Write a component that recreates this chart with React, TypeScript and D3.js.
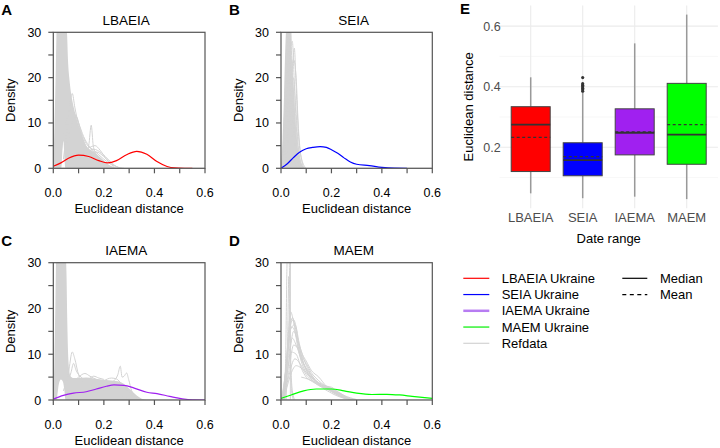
import React from "react";
import * as d3 from "d3";

type Pt = [number, number];
type Band = [number, number, number];

// ---- Ukraine density curves (x = Euclidean distance, y = density)
const lbaeiaUkraine: Pt[] = [
  [0, 0.45], [0.03, 1.2], [0.06, 2.2], [0.1, 2.9], [0.14, 2.6], [0.18, 1.7], [0.215, 1.2],
  [0.25, 1.7], [0.29, 3.0], [0.33, 3.75], [0.37, 3.1], [0.41, 1.5], [0.45, 0.4], [0.48, 0.08],
  [0.52, 0.01], [0.55, 0],
];
const seiaUkraine: Pt[] = [
  [0, 0], [0.025, 1.0], [0.05, 2.4], [0.075, 3.6], [0.1, 4.3], [0.125, 4.6], [0.155, 4.8],
  [0.18, 4.6], [0.2, 4.1], [0.225, 3.3], [0.25, 2.3], [0.275, 1.4], [0.3, 0.9], [0.35, 0.6],
  [0.4, 0.2], [0.45, 0.03], [0.5, 0],
];
const iaemaUkraine: Pt[] = [
  [0, 0.2], [0.04, 1.0], [0.08, 1.5], [0.13, 1.8], [0.17, 2.4], [0.21, 3.0], [0.24, 3.3],
  [0.28, 3.2], [0.32, 2.6], [0.37, 1.7], [0.41, 1.4], [0.46, 0.8], [0.51, 0.25], [0.55, 0.03],
  [0.6, 0],
];
const maemUkraine: Pt[] = [
  [0, 0.35], [0.04, 1.1], [0.09, 2.0], [0.14, 2.4], [0.2, 2.4], [0.25, 2.0], [0.3, 1.5],
  [0.36, 1.2], [0.42, 1.25], [0.47, 1.1], [0.52, 0.8], [0.6, 0.35],
];

// ---- Refdata: dense band of overlapping curves [x, low, high] and single curves
const lbaeiaRefBand: Band[] = [
  [0, 0, 0], [0.004, 0, 8], [0.01, 0, 22], [0.014, 0, 32], [0.032, 0, 32], [0.036, 4, 32],
  [0.04, 6, 32], [0.044, 2, 32], [0.048, 0, 32], [0.054, 0, 30], [0.058, 0, 24], [0.065, 0, 19],
  [0.075, 0, 15], [0.085, 0, 12.5], [0.1, 0, 9.5], [0.115, 0, 7], [0.13, 0, 5], [0.15, 0, 4],
  [0.17, 0, 3.2], [0.19, 0, 2.2], [0.21, 0, 1.2], [0.23, 0, 0.4], [0.25, 0, 0],
];
const lbaeiaRefCurves: Pt[][] = [
  [[0.04, 2], [0.055, 9], [0.065, 14], [0.075, 16.5], [0.085, 13.5], [0.1, 9.5], [0.12, 6], [0.15, 3.2], [0.18, 1.5], [0.22, 0.3], [0.26, 0]],
  [[0.03, 3], [0.05, 10], [0.07, 13], [0.085, 12], [0.1, 10], [0.12, 7], [0.14, 5], [0.17, 3], [0.2, 1.2], [0.24, 0.2]],
  [[0.05, 4], [0.07, 9], [0.09, 11.5], [0.11, 8], [0.13, 5.5], [0.16, 4], [0.2, 2], [0.24, 0.4]],
  [[0.1, 2], [0.125, 3], [0.14, 5], [0.15, 9.5], [0.158, 5], [0.17, 3], [0.19, 1.5], [0.22, 0.4], [0.25, 0]],
  [[0.08, 3], [0.11, 3.5], [0.14, 4.5], [0.165, 5], [0.185, 4], [0.21, 2], [0.24, 0.6], [0.27, 0]],
  [[0.09, 2.5], [0.13, 3.5], [0.16, 4.2], [0.19, 3.4], [0.22, 1.8], [0.25, 0.4], [0.28, 0]],
  [[0.1, 2], [0.14, 3], [0.17, 3.6], [0.2, 2.6], [0.23, 1], [0.26, 0.1]],
  [[0, 0], [0.2, 0], [0.4, 0], [0.6, 0]],
];

const seiaRefBand: Band[] = [
  [0, 0, 0], [0.006, 0, 6], [0.012, 0, 16], [0.018, 0, 28], [0.022, 0, 32], [0.038, 0, 32],
  [0.042, 0, 22], [0.046, 0, 20], [0.05, 0, 18], [0.056, 0, 12], [0.062, 0, 7], [0.07, 0, 3],
  [0.08, 0, 1], [0.09, 0, 0.2], [0.1, 0, 0],
];
const seiaRefCurves: Pt[][] = [
  [[0.003, 0], [0.015, 10], [0.025, 26], [0.032, 31], [0.04, 22], [0.05, 8], [0.06, 2], [0.075, 0]],
  [[0.008, 0], [0.02, 14], [0.03, 31], [0.038, 31], [0.045, 18], [0.055, 6], [0.07, 1], [0.085, 0]],
  [[0.01, 0], [0.025, 12], [0.035, 25], [0.045, 28], [0.052, 20], [0.062, 8], [0.075, 2], [0.09, 0]],
  [[0.015, 0], [0.03, 10], [0.045, 22], [0.053, 26.5], [0.06, 18], [0.07, 7], [0.082, 2], [0.1, 0]],
  [[0.005, 0], [0.018, 18], [0.026, 31], [0.034, 20], [0.044, 6], [0.055, 1], [0.065, 0]],
  [[0.012, 0], [0.028, 16], [0.04, 24], [0.05, 16], [0.06, 6], [0.072, 1.5], [0.09, 0]],
  [[0.02, 0], [0.035, 12], [0.048, 20], [0.058, 14], [0.068, 5], [0.08, 1], [0.095, 0]],
  [[0.018, 0], [0.032, 14], [0.05, 24], [0.06, 20], [0.068, 10], [0.078, 3], [0.092, 0]],
  [[0, 0], [0.2, 0], [0.4, 0], [0.6, 0]],
];

const iaemaRefBand: Band[] = [
  [0, 0, 0], [0.004, 0, 8], [0.008, 0, 20], [0.012, 0, 32], [0.016, 1, 32], [0.022, 3.5, 32],
  [0.03, 4.5, 32], [0.038, 4, 32], [0.044, 2, 32], [0.048, 0, 32], [0.052, 0, 28], [0.055, 0, 18],
  [0.058, 0, 11], [0.062, 0, 7], [0.068, 0, 5.2], [0.08, 0, 4.8], [0.1, 0, 4.8], [0.13, 0, 4.9],
  [0.16, 0, 4.7], [0.2, 0, 4.4], [0.24, 0, 4.2], [0.27, 0, 3.8], [0.29, 0, 3], [0.31, 0, 2],
  [0.33, 0, 1], [0.35, 0, 0.3], [0.37, 0, 0],
];
const iaemaRefCurves: Pt[][] = [
  [[0.04, 2], [0.06, 6], [0.075, 10.5], [0.085, 9], [0.1, 5.5], [0.12, 4], [0.15, 3], [0.2, 2], [0.25, 1], [0.3, 0.2]],
  [[0.05, 3], [0.07, 6], [0.08, 8], [0.09, 6.5], [0.11, 5], [0.14, 4]],
  [[0.08, 4], [0.1, 5], [0.125, 5.8], [0.145, 5.2], [0.17, 4.5], [0.2, 4.2]],
  [[0.14, 4.5], [0.16, 5.2], [0.18, 4.8], [0.2, 4.5]],
  [[0.22, 3.5], [0.24, 4.2], [0.255, 5.5], [0.265, 7.4], [0.272, 5], [0.28, 5.2], [0.29, 5.9], [0.298, 4.5], [0.31, 2], [0.33, 0.5], [0.35, 0]],
  [[0.2, 4.2], [0.23, 4.8], [0.25, 4.6], [0.27, 3.5], [0.3, 1.5], [0.34, 0.2]],
  [[0, 0], [0.2, 0], [0.4, 0], [0.6, 0]],
];

const maemRefBand: Band[] = [];
const maemRefCurves: Pt[][] = [
  [[0, 0], [0.02, 7], [0.038, 19.3], [0.05, 17], [0.065, 12], [0.08, 8.5], [0.1, 6], [0.13, 4.5], [0.16, 3.2], [0.2, 2], [0.25, 0.6], [0.3, 0]],
  [[0.005, 0], [0.025, 9], [0.045, 18], [0.06, 15], [0.075, 11], [0.09, 8], [0.11, 6], [0.14, 4], [0.18, 2.6], [0.22, 1.2], [0.27, 0.2]],
  [[0.005, 0], [0.022, 8], [0.042, 16], [0.058, 14.5], [0.075, 10], [0.1, 7], [0.12, 5.5], [0.15, 3.6], [0.2, 1.8], [0.25, 0.4]],
  [[0.01, 0], [0.03, 8], [0.05, 15], [0.065, 13], [0.08, 10], [0.1, 8], [0.12, 6], [0.15, 4.2], [0.19, 2.5], [0.23, 1], [0.28, 0]],
  [[0.008, 0], [0.028, 9], [0.045, 13.5], [0.06, 12], [0.08, 9], [0.1, 6.5], [0.13, 4.5], [0.17, 3], [0.21, 2], [0.26, 0.5]],
  [[0.01, 0], [0.03, 6], [0.05, 12], [0.07, 11], [0.09, 8], [0.11, 5.5], [0.14, 3.5], [0.18, 2.5], [0.22, 1.5], [0.27, 0.3]],
  [[0.005, 0], [0.025, 6], [0.04, 10.5], [0.06, 10], [0.08, 7], [0.1, 5], [0.13, 4], [0.16, 3], [0.2, 2.2], [0.25, 0.8], [0.3, 0]],
  [[0.01, 0], [0.03, 5], [0.055, 9], [0.075, 8], [0.1, 5.5], [0.12, 4.5], [0.15, 3.5], [0.19, 2.8], [0.22, 2], [0.26, 0.6]],
  [[0.012, 0], [0.035, 5], [0.06, 7.5], [0.08, 7], [0.1, 6], [0.12, 5], [0.15, 3.8], [0.18, 3], [0.21, 2.2], [0.25, 1], [0.3, 0.1]],
  [[0.015, 0], [0.04, 17], [0.05, 17.5], [0.06, 16], [0.07, 13], [0.09, 9], [0.11, 6.5], [0.14, 4], [0.2, 1.5], [0.26, 0.2]],
  [[0.01, 0], [0.035, 15], [0.055, 16.5], [0.07, 12.5], [0.085, 10], [0.1, 8.5], [0.12, 6.5], [0.15, 5], [0.18, 3], [0.22, 1.5], [0.27, 0.2]],
  [[0.01, 0], [0.018, 8], [0.025, 31], [0.032, 31], [0.038, 10], [0.045, 2], [0.055, 0]],
  [[0.02, 0], [0.026, 12], [0.031, 27], [0.036, 12], [0.042, 2], [0.05, 0]],
  [[0.037, 0], [0.0375, 32]],
  [[0.08, 5], [0.11, 4.5], [0.14, 3.5], [0.17, 3.1], [0.2, 2.8], [0.23, 1.5], [0.27, 0.3]],
  [[0, 0], [0.2, 0], [0.4, 0], [0.6, 0]],
];

// ---- Box plot summary (panel E)
const categories = ["LBAEIA", "SEIA", "IAEMA", "MAEM"];
const boxColors = ["#ff0000", "#0000ff", "#a020f0", "#00ff00"];
const whiskerLow = [0.048, 0.032, 0.037, 0.029];
const q1 = [0.12, 0.106, 0.175, 0.144];
const median = [0.275, 0.158, 0.248, 0.242];
const mean = [0.233, 0.169, 0.251, 0.275];
const q3 = [0.334, 0.215, 0.327, 0.411];
const whiskerHigh = [0.431, 0.382, 0.543, 0.638];
const seiaOutliers = [0.385, 0.39, 0.395, 0.4, 0.405, 0.41, 0.43];

const densXTicks = [0, 0.1, 0.2, 0.3, 0.4, 0.5, 0.6];
const densXLabels = [0, 0.2, 0.4, 0.6];
const densYTicks = [0, 5, 10, 15, 20, 25, 30];
const densYLabels = [0, 10, 20, 30];
const boxYMajor = [0.2, 0.4, 0.6];
const boxYMinor = [0.1, 0.3, 0.5];

const legendUkraine = ["LBAEIA Ukraine", "SEIA Ukraine", "IAEMA Ukraine", "MAEM Ukraine", "Refdata"];
const legendUkraineColors = ["#ff0000", "#0000ff", "#b77cf2", "#00ee00", "#d3d3d3"];
const legendStats = ["Median", "Mean"];

const FONT = "'Liberation Sans', Arial, Helvetica, sans-serif";
const REF = "#d3d3d3";
const FRAME = "#555555";

const panels = [
  { letter: "A", name: "LBAEIA", left: 53.3, right: 205, top: 32.3, bottom: 168.3, ukr: lbaeiaUkraine, band: lbaeiaRefBand, refs: lbaeiaRefCurves, color: "#ff0000" },
  { letter: "B", name: "SEIA", left: 281, right: 432.3, top: 32.3, bottom: 168.3, ukr: seiaUkraine, band: seiaRefBand, refs: seiaRefCurves, color: "#0000ff" },
  { letter: "C", name: "IAEMA", left: 53.3, right: 205, top: 262.7, bottom: 400, ukr: iaemaUkraine, band: iaemaRefBand, refs: iaemaRefCurves, color: "#a020f0" },
  { letter: "D", name: "MAEM", left: 281, right: 432.3, top: 262.7, bottom: 400, ukr: maemUkraine, band: maemRefBand, refs: maemRefCurves, color: "#00ff00" },
];

function DensityPanel({ p, idx }: { p: any; idx: number }) {
  const x = d3.scaleLinear().domain([0, 0.6]).range([p.left, p.right]);
  const y = d3.scaleLinear().domain([0, 30]).range([p.bottom, p.top]);
  const line = d3.line<Pt>().x((d) => x(d[0])).y((d) => y(d[1])).curve(d3.curveMonotoneX);
  const area = d3
    .area<Band>()
    .x((d) => x(d[0]))
    .y0((d) => y(d[1]))
    .y1((d) => y(d[2]))
    .curve(d3.curveMonotoneX);
  const clipId = "clip" + idx;
  const midX = (p.left + p.right) / 2;
  return (
    <g>
      <defs>
        <clipPath id={clipId}>
          <rect x={p.left} y={p.top} width={p.right - p.left} height={p.bottom - p.top} />
        </clipPath>
      </defs>
      <text x={p.left - 52} y={p.top - 17} fontSize={15} fontWeight="bold">{p.letter}</text>
      <text x={midX - 3} y={p.top - 7.5} fontSize={13.5} textAnchor="middle">{p.name}</text>
      <g clipPath={`url(#${clipId})`}>
        {p.band.length > 0 && <path d={area(p.band) || ""} fill={REF} stroke="none" />}
        {p.refs.map((c: Pt[], i: number) => (
          <path key={i} d={line(c) || ""} fill="none" stroke={REF} strokeWidth={1} />
        ))}
        <path d={line(p.ukr) || ""} fill="none" stroke={p.color} strokeWidth={1.2} />
      </g>
      <rect x={p.left} y={p.top} width={p.right - p.left} height={p.bottom - p.top} fill="none" stroke={FRAME} strokeWidth={1.2} />
      {densXTicks.map((t) => (
        <line key={t} x1={x(t)} x2={x(t)} y1={p.bottom} y2={p.bottom + 5} stroke={FRAME} strokeWidth={1.2} />
      ))}
      {densXLabels.map((t) => (
        <text key={t} x={x(t)} y={p.bottom + 28.5} fontSize={12.5} textAnchor="middle">{d3.format(".1f")(t)}</text>
      ))}
      {densYTicks.map((t) => (
        <line key={t} x1={p.left - 5} x2={p.left} y1={y(t)} y2={y(t)} stroke={FRAME} strokeWidth={1.2} />
      ))}
      {densYLabels.map((t) => (
        <text key={t} x={p.left - 12} y={y(t) + 4.5} fontSize={12.5} textAnchor="end">{t}</text>
      ))}
      <text x={midX} y={p.bottom + 45} fontSize={13} textAnchor="middle">Euclidean distance</text>
      <text transform={`translate(${p.left - 38},${(p.top + p.bottom) / 2}) rotate(-90)`} fontSize={13} textAnchor="middle">Density</text>
    </g>
  );
}

function BoxPanel() {
  const x = d3.scalePoint<string>().domain(categories).range([499.5, 717.9]).padding(0.6);
  const y = d3.scaleLinear().domain([0, 0.6]).range([207.9, 26.1]);
  const top = y(0.668);
  const bottom = y(-0.001);
  const bw = x.step() * 0.75;
  return (
    <g>
      <text x={460} y={13.5} fontSize={15} fontWeight="bold">E</text>
      {boxYMinor.map((t) => (
        <line key={"mi" + t} x1={499.5} x2={717.9} y1={y(t)} y2={y(t)} stroke="#f2f2f2" strokeWidth={0.6} />
      ))}
      {boxYMajor.map((t) => (
        <line key={"ma" + t} x1={499.5} x2={717.9} y1={y(t)} y2={y(t)} stroke="#ebebeb" strokeWidth={1.1} />
      ))}
      {categories.map((c) => (
        <line key={"v" + c} x1={x(c)} x2={x(c)} y1={top} y2={bottom} stroke="#ebebeb" strokeWidth={1.1} />
      ))}
      {categories.map((c, i) => {
        const cx = x(c) as number;
        return (
          <g key={c}>
            <line x1={cx} x2={cx} y1={y(q3[i])} y2={y(whiskerHigh[i])} stroke="#999999" strokeWidth={1.5} />
            <line x1={cx} x2={cx} y1={y(q1[i])} y2={y(whiskerLow[i])} stroke="#999999" strokeWidth={1.5} />
            <rect x={cx - bw / 2} y={y(q3[i])} width={bw} height={y(q1[i]) - y(q3[i])} fill={boxColors[i]} stroke="#444444" strokeWidth={1} />
            <line x1={cx - bw / 2} x2={cx + bw / 2} y1={y(median[i])} y2={y(median[i])} stroke="#333333" strokeWidth={1.8} />
            <line x1={cx - bw / 2} x2={cx + bw / 2} y1={y(mean[i])} y2={y(mean[i])} stroke="#333333" strokeWidth={1.3} strokeDasharray="3,2.5" />
          </g>
        );
      })}
      {seiaOutliers.map((v, i) => (
        <circle key={i} cx={x("SEIA")} cy={y(v)} r={1.6} fill="#333333" />
      ))}
      {boxYMajor.map((t) => (
        <text key={t} x={500.7} y={y(t) + 4.5} fontSize={12.5} textAnchor="end" fill="#4d4d4d">{t.toFixed(1)}</text>
      ))}
      {categories.map((c) => (
        <text key={c} x={x(c)} y={221.5} fontSize={13} textAnchor="middle" fill="#4d4d4d">{c}</text>
      ))}
      <text x={608.7} y={243} fontSize={13} textAnchor="middle">Date range</text>
      <text transform={`translate(473,${(top + bottom) / 2}) rotate(-90)`} fontSize={13} textAnchor="middle">Euclidean distance</text>
    </g>
  );
}

function Legend() {
  const rowY = (i: number) => 278.3 + i * 16.25;
  return (
    <g>
      {legendUkraine.map((t, i) => (
        <g key={t}>
          <line x1={463.3} x2={489.3} y1={rowY(i)} y2={rowY(i)} stroke={legendUkraineColors[i]} strokeWidth={i === 2 ? 2.5 : 1.2} />
          <text x={501.7} y={rowY(i) + 4.6} fontSize={13}>{t}</text>
        </g>
      ))}
      {legendStats.map((t, i) => (
        <g key={t}>
          <line x1={622.3} x2={647.3} y1={rowY(i)} y2={rowY(i)} stroke="#000" strokeWidth={1.2} strokeDasharray={i === 1 ? "4,3.5" : undefined} />
          <text x={660} y={rowY(i) + 4.6} fontSize={13}>{t}</text>
        </g>
      ))}
    </g>
  );
}

export default function App() {
  return (
    <svg
      width={720}
      height={448}
      style={{ position: "absolute", left: 0, top: 0, background: "white", fontFamily: FONT }}
    >
      <rect width={720} height={448} fill="white" />
      {panels.map((p, i) => (
        <DensityPanel key={p.letter} p={p} idx={i} />
      ))}
      <BoxPanel />
      <Legend />
    </svg>
  );
}
